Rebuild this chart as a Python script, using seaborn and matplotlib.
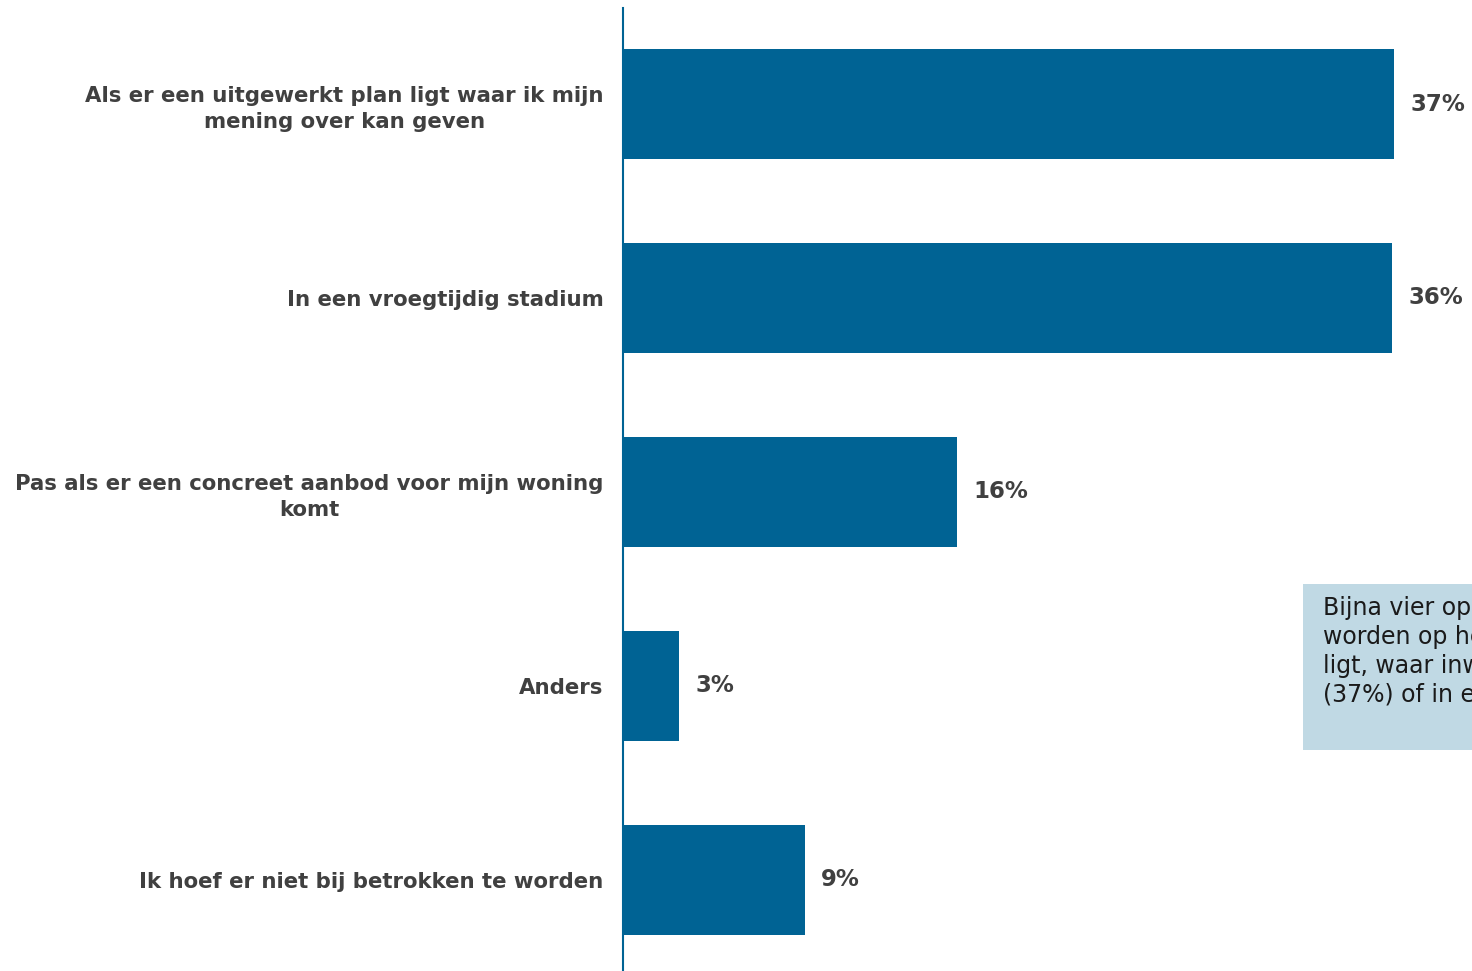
import numpy as np
import pandas as pd
import seaborn as sns
import matplotlib.pyplot as plt
from matplotlib.patches import Rectangle

# Data
categories = [
    "Als er een uitgewerkt plan ligt waar ik mijn\nmening over kan geven",
    "In een vroegtijdig stadium",
    "Pas als er een concreet aanbod voor mijn woning\nkomt",
    "Anders",
    "Ik hoef er niet bij betrokken te worden",
]
values = [36.9, 36.8, 16.0, 2.7, 8.7]
value_labels = ["37%", "36%", "16%", "3%", "9%"]

note_text = ("Bijna vier op de tien willen betrokken\n"
             "worden op het moment dat er een plan\n"
             "ligt, waar inwoners hun mening geven\n"
             "(37%) of in een vroegtijdig stadium (36%).")

bar_color = "#006394"
text_color = "#404040"

sns.set_theme(style="white")
plt.rcParams["font.family"] = ["DejaVu Sans"]

df = pd.DataFrame({"categorie": categories, "aandeel": values})

fig = plt.figure(figsize=(14.72, 9.71), dpi=100)
ax = fig.add_axes([623 / 1472, 0.0, 1 - 623 / 1472, 963 / 971])

sns.barplot(data=df, x="aandeel", y="categorie", color=bar_color,
            saturation=1, width=0.567, linewidth=0, ax=ax)

ax.set_xlim(0, 849 / 20.9)
ax.set_ylim(4.47, -0.495)

# value labels
ax.bar_label(ax.containers[0], labels=value_labels, padding=11.5,
             fontsize=16.5, fontweight="bold", color=text_color)

# axes styling
for side in ["top", "right", "bottom"]:
    ax.spines[side].set_visible(False)
ax.spines["left"].set_color(bar_color)
ax.spines["left"].set_linewidth(1.5)
ax.set_xticks([])
ax.set_xlabel("")
ax.set_ylabel("")
ax.tick_params(axis="y", length=0, pad=14)
for lbl in ax.get_yticklabels():
    lbl.set_fontsize(15.3)
    lbl.set_fontweight("bold")
    lbl.set_color(text_color)
    lbl.set_multialignment("center")
    lbl.set_linespacing(1.38)

# note box (runs off the right edge as in the original)
W, H = 1472, 971
fig.patches.append(Rectangle((1303 / W, 1 - 750 / H), 300 / W, 166 / H,
                             transform=fig.transFigure, facecolor="#c0d9e4",
                             edgecolor="none", zorder=3))
fig.text(1323 / W, 1 - 596 / H, note_text, fontsize=17, color="#1a1a1a",
         va="top", ha="left", linespacing=1.27, zorder=4)

fig.savefig("out.png", dpi=100)
